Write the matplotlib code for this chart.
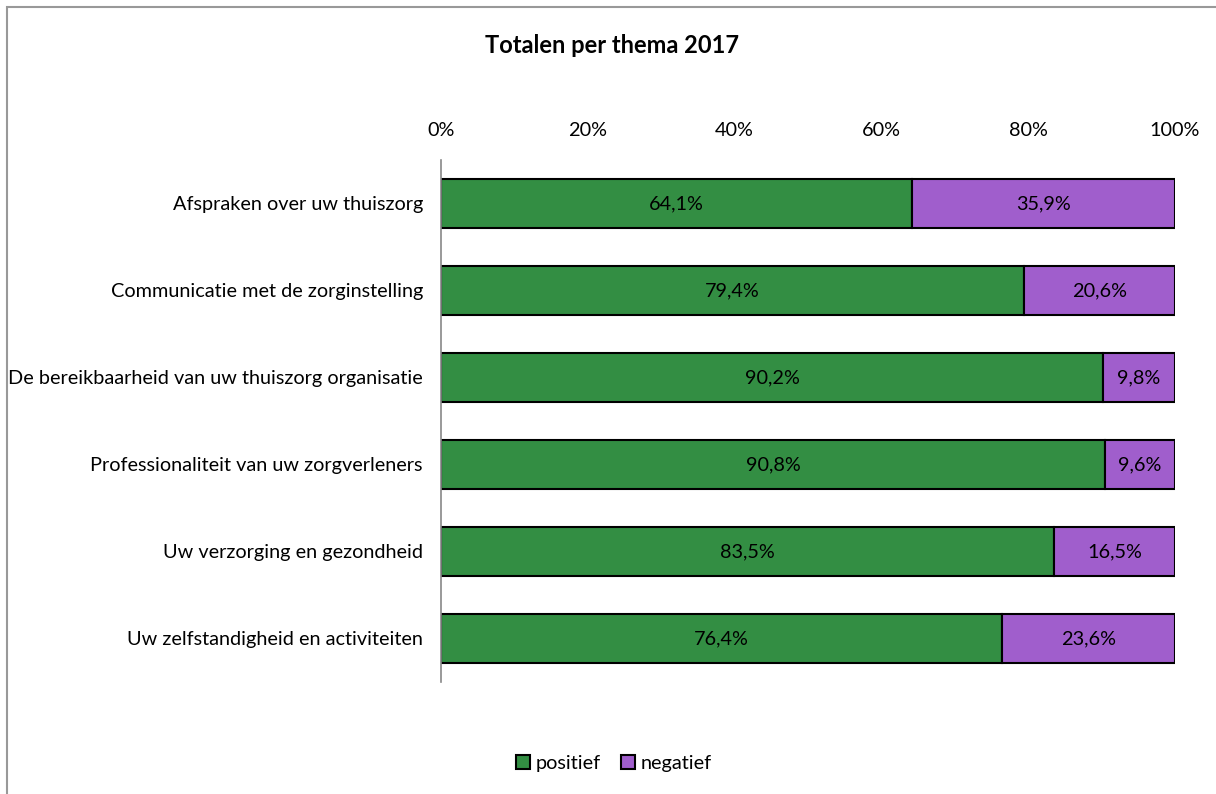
import matplotlib.pyplot as plt
import numpy as np
from matplotlib.patches import Rectangle

plt.rcParams['font.family'] = ['Lato', 'DejaVu Sans']

categories = ["Afspraken over uw thuiszorg",
              "Communicatie met de zorginstelling",
              "De bereikbaarheid van uw thuiszorg organisatie",
              "Professionaliteit van uw zorgverleners",
              "Uw verzorging en gezondheid",
              "Uw zelfstandigheid en activiteiten"]
positief = np.array([64.1, 79.4, 90.2, 90.8, 83.5, 76.4])
negatief = np.array([35.9, 20.6, 9.8, 9.6, 16.5, 23.6])
xticks = [0, 20, 40, 60, 80, 100]

green = '#338E43'
purple = '#A05ECC'
fs = 14.3

# 100% stacked: normalise each row
tot = positief + negatief
pos_w = positief / tot * 100
neg_w = negatief / tot * 100

fig = plt.figure(figsize=(12.16, 7.94), dpi=100)
ax = fig.add_axes([0.3627, 0.1411, 0.6036, 0.6574])

y = np.arange(len(categories))
b1 = ax.barh(y, pos_w, height=0.553, color=green, edgecolor='black', linewidth=1.5, label='positief')
b2 = ax.barh(y, neg_w, left=pos_w, height=0.553, color=purple, edgecolor='black', linewidth=1.5, label='negatief')

for i in range(len(categories)):
    ax.text(pos_w[i] / 2, y[i], f"{positief[i]:.1f}%".replace('.', ','),
            ha='center', va='center', fontsize=fs)
    ax.text(pos_w[i] + neg_w[i] / 2, y[i], f"{negatief[i]:.1f}%".replace('.', ','),
            ha='center', va='center', fontsize=fs)

ax.set_xlim(0, 100)
ax.set_ylim(len(categories) - 0.5, -0.5)
ax.set_yticks(y)
ax.set_yticklabels(categories, fontsize=fs)
ax.set_xticks(xticks)
ax.set_xticklabels([f"{t}%" for t in xticks], fontsize=fs)
ax.xaxis.tick_top()
ax.tick_params(axis='x', length=0, pad=15)
ax.tick_params(axis='y', length=0, pad=13)
for s in ['top', 'right', 'bottom']:
    ax.spines[s].set_visible(False)
ax.spines['left'].set_color('#888888')
ax.spines['left'].set_linewidth(1.2)

fig.text(0.503, 0.943, "Totalen per thema 2017", ha='center', va='center',
         fontsize=17, fontweight='bold')

fig.legend(handles=[b1, b2], labels=['positief', 'negatief'], loc='center',
           bbox_to_anchor=(0.505, 0.039), ncol=2, frameon=False, fontsize=fs,
           handlelength=0.7, handleheight=0.7, handletextpad=0.3, columnspacing=1.0)

# outer chart border (top and left visible)
fig.add_artist(Rectangle((7 / 1216, -0.1), 1.2, 1 - 7 / 794 + 0.1, transform=fig.transFigure,
                         fill=False, edgecolor='#999999', linewidth=1.5))

fig.savefig('out.png', dpi=100)
